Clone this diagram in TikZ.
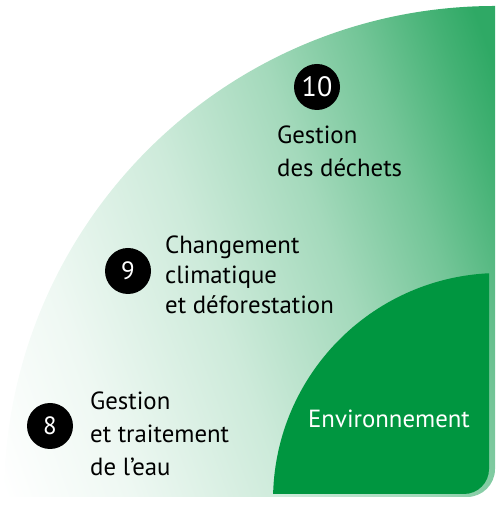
\documentclass[tikz,border=0pt]{standalone}
\usepackage{fontspec}
\setmainfont{PT Sans}
\definecolor{gr}{HTML}{2FA965}
\definecolor{envgreen}{HTML}{009640}
\pgfdeclarehorizontalshading{envshade}{100bp}{color(0bp)=(white); color(18bp)=(white); color(30bp)=(gr!8!white); color(45bp)=(gr!24!white); color(58bp)=(gr!44!white); color(68bp)=(gr!67!white); color(76bp)=(gr!90!white); color(80bp)=(gr); color(100bp)=(gr)}
\begin{document}
\begin{tikzpicture}[x=1pt,y=1pt,
  numdot/.style={circle,fill=black,text=white,minimum size=46pt,inner sep=0pt,font=\fontsize{25}{25}\selectfont},
  label/.style={anchor=base west,inner sep=0pt,align=left,text=black,font=\fontsize{24.8}{33}\selectfont},
  envlabel/.style={anchor=base west,inner sep=0pt,text=white,font=\fontsize{24.8}{24}\selectfont}]
\useasboundingbox (0,0) rectangle (501,505);
% outer quarter shape with gradient
\shade[shading=envshade,shading angle=20]
  (4,8) arc[start angle=180,end angle=90,radius=491]
  -- (495,36) arc[start angle=0,end angle=-90,radius=28] -- cycle;
% inner solid shape
\fill[envgreen]
  (273.1,11) arc[start angle=178.49,end angle=92.78,radius=227]
  -- (489,36) arc[start angle=0,end angle=-90,radius=25] -- cycle;
\node[envlabel] (env) at (308,77) {Environnement};
% items
\node[numdot,font=\fontsize{28}{28}\selectfont] (n10) at (317,418) {10};
\node[label] (t10) at (277,328) {Gestion\\des déchets};
\node[numdot] (n9) at (128,234) {9};
\node[label,font=\fontsize{24.8}{30}\selectfont] (t9) at (165,191) {Changement\\climatique\\et déforestation};
\node[numdot] (n8) at (50,79) {8};
\node[label] (t8) at (90,29) {Gestion\\et traitement\\de l’eau};
\end{tikzpicture}
\end{document}
